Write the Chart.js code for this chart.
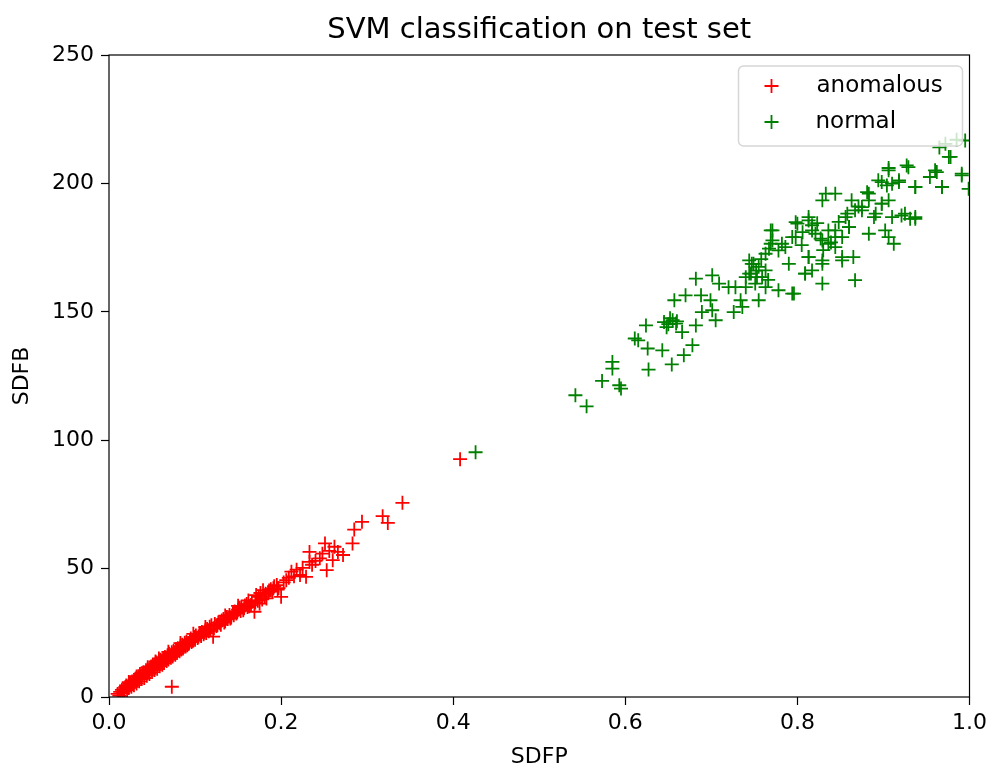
<!DOCTYPE html>
<html>
<head>
<meta charset="utf-8">
<script src="https://cdn.jsdelivr.net/npm/chart.js@4/dist/chart.umd.min.js"></script>
<style>
  html, body { margin: 0; padding: 0; background: #ffffff; }
  #wrap { width: 992px; height: 769px; }
</style>
</head>
<body>
<div id="wrap"><canvas id="myChart" width="992" height="769"></canvas></div>
<script>
// data
const anomalousX = [0.010,0.013,0.015,0.017,0.019,0.020,0.022,0.024,0.025,0.027,0.028,0.030,0.031,0.033,0.034,0.036,0.037,0.039,0.040,0.042,
  0.043,0.045,0.046,0.048,0.049,0.051,0.052,0.054,0.055,0.057,0.058,0.060,0.061,0.063,0.065,0.066,0.068,0.070,0.071,0.073,
  0.073,0.075,0.076,0.078,0.080,0.081,0.083,0.085,0.087,0.088,0.090,0.092,0.094,0.095,0.097,0.099,0.101,0.103,0.105,0.106,
  0.108,0.110,0.112,0.114,0.116,0.117,0.119,0.121,0.123,0.125,0.127,0.129,0.131,0.133,0.135,0.137,0.140,0.142,0.144,0.146,
  0.148,0.150,0.152,0.154,0.156,0.158,0.160,0.163,0.166,0.169,0.171,0.173,0.175,0.176,0.179,0.181,0.183,0.185,0.188,0.190,
  0.192,0.195,0.197,0.200,0.203,0.206,0.209,0.212,0.215,0.218,0.222,0.225,0.229,0.233,0.233,0.236,0.240,0.245,0.248,0.251,
  0.253,0.256,0.260,0.262,0.266,0.272,0.283,0.285,0.294,0.318,0.324,0.341,0.408,
  0.012,0.016,0.018,0.021,0.023,0.026,0.029,0.032,0.035,0.038,0.041,0.044,0.047,0.050,0.053,0.056,0.059,0.062,0.064,0.067,
  0.069,0.072,0.074,0.077,0.079,0.082,0.084,0.086,0.089,0.091,0.093,0.096,0.098,0.100,0.104,0.107,0.111,0.113,0.118,0.122,
  0.126,0.130,0.134,0.138,0.141,0.145,0.149,0.153,0.157,0.161,0.165,0.170,0.174,0.178,0.182,0.186,0.191,0.196,
  0.032,0.045,0.058,0.069,0.083,0.098,0.112,0.135,0.150,0.162,0.023,0.036,0.054];
const anomalousY = [1.2,2.0,2.8,3.1,3.9,4.5,4.1,5.2,5.6,6.0,5.4,6.8,7.2,7.0,8.1,8.4,7.9,9.1,9.6,9.3,
  10.4,10.8,10.2,11.5,11.9,12.3,11.6,12.9,13.4,13.1,14.0,14.5,13.8,15.1,15.6,15.0,16.3,16.8,16.1,17.4,
  4.0,17.9,17.2,18.6,19.0,18.2,19.8,20.3,19.6,21.1,21.5,20.7,22.2,22.8,21.9,23.4,23.9,23.0,24.6,24.7,
  25.3,24.4,26.0,26.5,25.6,27.4,27.9,23.5,28.4,27.6,29.0,28.7,29.8,30.4,29.5,31.2,31.9,31.0,32.6,33.3,
  32.5,34.0,34.8,35.1,33.8,35.6,36.2,35.3,37.0,33.2,39.7,37.5,36.4,40.5,41.6,39.2,38.4,40.8,42.0,41.0,
  43.1,43.6,42.4,39.0,44.6,45.5,46.4,48.8,47.0,49.6,47.5,50.3,46.8,52.6,56.5,51.5,53.0,54.0,55.8,59.8,
  49.4,56.9,53.3,58.5,56.5,55.3,59.8,65.2,68.2,70.4,67.8,75.6,92.6,
  0.5,1.5,2.2,2.6,3.5,4.0,4.6,5.3,6.1,7.0,7.4,8.3,9.0,9.7,10.5,11.0,12.0,12.6,13.2,14.0,
  14.6,15.3,15.8,16.5,17.1,17.8,18.5,18.9,19.7,20.2,20.8,21.4,22.0,22.3,23.5,23.8,25.1,24.9,26.3,26.8,
  28.0,28.1,29.0,30.4,30.6,31.8,33.0,33.5,34.6,35.0,35.8,36.8,39.0,38.0,40.2,41.5,42.3,41.8,
  8.0,11.6,15.0,17.6,21.0,24.6,27.3,31.7,35.5,37.6,5.8,9.0,13.8];

const normalX = [0.426,0.542,0.555,0.573,0.585,0.585,0.593,0.595,0.627,0.611,0.615,0.624,0.626,0.643,0.654,0.645,0.655,0.659,0.666,0.668,
  0.678,0.657,0.670,0.682,0.688,0.689,0.682,0.701,0.699,0.701,0.709,0.705,0.720,0.726,0.734,0.736,0.740,0.746,0.749,0.753,
  0.755,0.744,0.763,0.769,0.769,0.767,0.778,0.790,0.796,0.782,0.794,0.800,0.813,0.817,0.813,0.809,0.817,0.829,0.829,0.827,
  0.829,0.844,0.836,0.844,0.852,0.852,0.858,0.860,0.865,0.867,0.863,0.875,0.881,0.883,0.889,0.898,0.894,0.906,0.904,0.910,
  0.912,0.906,0.918,0.921,0.927,0.931,0.937,0.937,0.954,0.962,0.968,0.978,0.972,0.991,0.995,0.999,
  0.771,0.771,0.798,0.813,0.817,0.821,0.829,0.836,0.844,0.856,0.860,0.867,0.875,0.883,0.891,0.898,0.906,0.833,0.844,0.852,
  0.813,0.809,0.829,0.798,0.786,0.778,0.763,0.747,0.744,0.755,0.759,0.740,0.751,0.763,0.728,0.794,0.902,0.925,0.937,0.929,
  0.906,0.898,0.910,0.918,0.883,0.937,0.960,0.968,0.976,0.991,0.650,0.652,0.660,0.648,0.965,0.985,
  0.752,0.758,0.766,0.805,0.823,0.839,0.848,0.871,0.806,0.830];
const normalY = [95.3,117.5,113.2,123.1,130.5,127.9,121.4,120.1,127.5,139.6,138.9,144.7,135.7,135.0,129.5,146.0,146.7,145.4,142.1,133.1,
  137.0,154.5,156.4,162.9,156.4,149.9,144.7,164.2,154.5,150.6,161.0,146.7,159.6,149.9,154.5,151.9,159.6,164.9,168.7,163.5,
  154.5,170.0,166.1,181.7,176.5,174.6,158.4,168.7,157.1,176.5,179.1,184.3,185.6,181.7,171.3,164.9,166.1,161.0,168.7,178.5,
  193.4,196.0,176.5,181.7,179.1,171.3,188.2,183.0,171.3,162.3,193.4,189.5,196.6,180.4,186.9,192.1,201.2,205.1,199.2,186.9,
  176.5,179.1,201.2,187.5,207.0,186.2,186.2,198.6,202.5,204.4,198.6,210.3,215.4,203.8,216.7,197.9,
  181.7,177.8,184.9,186.9,183.7,180.4,177.8,181.7,179.1,186.9,183.0,189.5,190.8,193.4,188.2,192.1,193.4,196.0,175.2,170.0,
  171.3,164.9,170.0,179.1,175.2,173.9,172.6,168.7,164.9,167.5,163.5,163.5,161.0,159.6,159.6,157.1,181.7,188.2,186.9,206.3,
  206.0,200.5,199.9,200.5,196.0,198.6,205.1,198.6,210.3,203.1,145.2,147.5,146.3,144.0,214.0,217.0,
  166.0,170.5,162.4,176.0,184.5,177.0,185.0,191.0,181.0,174.0];

const xTicks = [0.0, 0.2, 0.4, 0.6, 0.8, 1.0];
const yTicks = [0, 50, 100, 150, 200, 250];
const titleText = 'SVM classification on test set';

const toPoints = (xs, ys) => xs.map((x, i) => ({ x: x, y: ys[i] }));

const FONT = "'DejaVu Sans', sans-serif";

// matplotlib style box around the axes, and the title centred over the axes
const frameBox = {
  id: 'frameBox',
  afterDraw(chart) {
    const a = chart.chartArea, ctx = chart.ctx;
    ctx.save();
    ctx.strokeStyle = '#000';
    ctx.lineWidth = 1.2;
    ctx.strokeRect(a.left, a.top, a.right - a.left, a.bottom - a.top);
    ctx.fillStyle = '#000';
    ctx.font = "29px " + FONT;
    ctx.textAlign = 'center';
    ctx.textBaseline = 'alphabetic';
    ctx.fillText(titleText, (a.left + a.right) / 2, 38);
    ctx.restore();
  }
};

// legend drawn inside the axes, top right
const innerLegend = {
  id: 'innerLegend',
  afterDatasetsDraw(chart) {
    const ctx = chart.ctx, a = chart.chartArea;
    const w = 224, h = 80, x = a.right - w - 7, y = a.top + 11;
    ctx.save();
    ctx.globalAlpha = 0.8;
    ctx.fillStyle = '#fff';
    ctx.beginPath();
    ctx.roundRect(x, y, w, h, 5);
    ctx.fill();
    ctx.globalAlpha = 1;
    ctx.strokeStyle = '#d6d6d6';
    ctx.lineWidth = 1.5;
    ctx.stroke();
    ctx.font = "23px " + FONT;
    ctx.textBaseline = 'middle';
    chart.data.datasets.forEach((ds, i) => {
      const cy = y + 20 + i * 36;
      const cx = x + 33;
      ctx.strokeStyle = ds.borderColor;
      ctx.lineWidth = 1.8;
      ctx.beginPath();
      ctx.moveTo(cx - 7, cy); ctx.lineTo(cx + 7, cy);
      ctx.moveTo(cx, cy - 7); ctx.lineTo(cx, cy + 7);
      ctx.stroke();
      ctx.fillStyle = '#000';
      ctx.fillText(ds.label, x + 78 + (i === 1 ? -1 : 0), cy);
    });
    ctx.restore();
  }
};

const ctx = document.getElementById('myChart').getContext('2d');
const myChart = new Chart(ctx, {
  type: 'scatter',
  data: {
    datasets: [
      {
        label: 'anomalous',
        data: toPoints(anomalousX, anomalousY),
        pointStyle: 'cross',
        pointRadius: 7,
        pointHoverRadius: 7,
        borderWidth: 1.8,
        borderColor: '#ff0000',
        backgroundColor: '#ff0000',
        showLine: false
      },
      {
        label: 'normal',
        data: toPoints(normalX, normalY),
        pointStyle: 'cross',
        pointRadius: 7,
        pointHoverRadius: 7,
        borderWidth: 1.8,
        borderColor: '#008000',
        backgroundColor: '#008000',
        showLine: false
      }
    ]
  },
  options: {
    responsive: false,
    animation: false,
    layout: { padding: { left: 0, right: 22, top: 55, bottom: 0 } },
    plugins: {
      legend: { display: false },
      tooltip: { enabled: false },
      title: { display: false }
    },
    scales: {
      x: {
        type: 'linear',
        min: 0, max: 1,
        afterBuildTicks: (s) => { s.ticks = xTicks.map(v => ({ value: v })); },
        afterFit: (s) => { s.height = 72; },
        ticks: {
          color: '#000',
          font: { family: FONT, size: 22 },
          padding: 5,
          maxRotation: 0,
          callback: (v) => v.toFixed(1)
        },
        grid: { display: true, drawOnChartArea: false, drawTicks: true, tickLength: 8, tickColor: '#000', tickWidth: 1.2 },
        border: { display: false },
        title: {
          display: true,
          text: 'SDFP',
          color: '#000',
          font: { family: FONT, size: 22, lineHeight: 1 },
          padding: { top: 0, bottom: 1 }
        }
      },
      y: {
        type: 'linear',
        min: 0, max: 250,
        afterBuildTicks: (s) => { s.ticks = yTicks.map(v => ({ value: v })); },
        afterFit: (s) => { s.width = 109; },
        ticks: {
          color: '#000',
          font: { family: FONT, size: 22 },
          padding: 7,
          callback: (v) => String(v)
        },
        grid: { display: true, drawOnChartArea: false, drawTicks: true, tickLength: 8, tickColor: '#000', tickWidth: 1.2 },
        border: { display: false },
        title: {
          display: true,
          text: 'SDFB',
          color: '#000',
          font: { family: FONT, size: 22, lineHeight: 1 },
          padding: { top: 11, bottom: 0 }
        }
      }
    }
  },
  plugins: [frameBox, innerLegend]
});
</script>
</body>
</html>
